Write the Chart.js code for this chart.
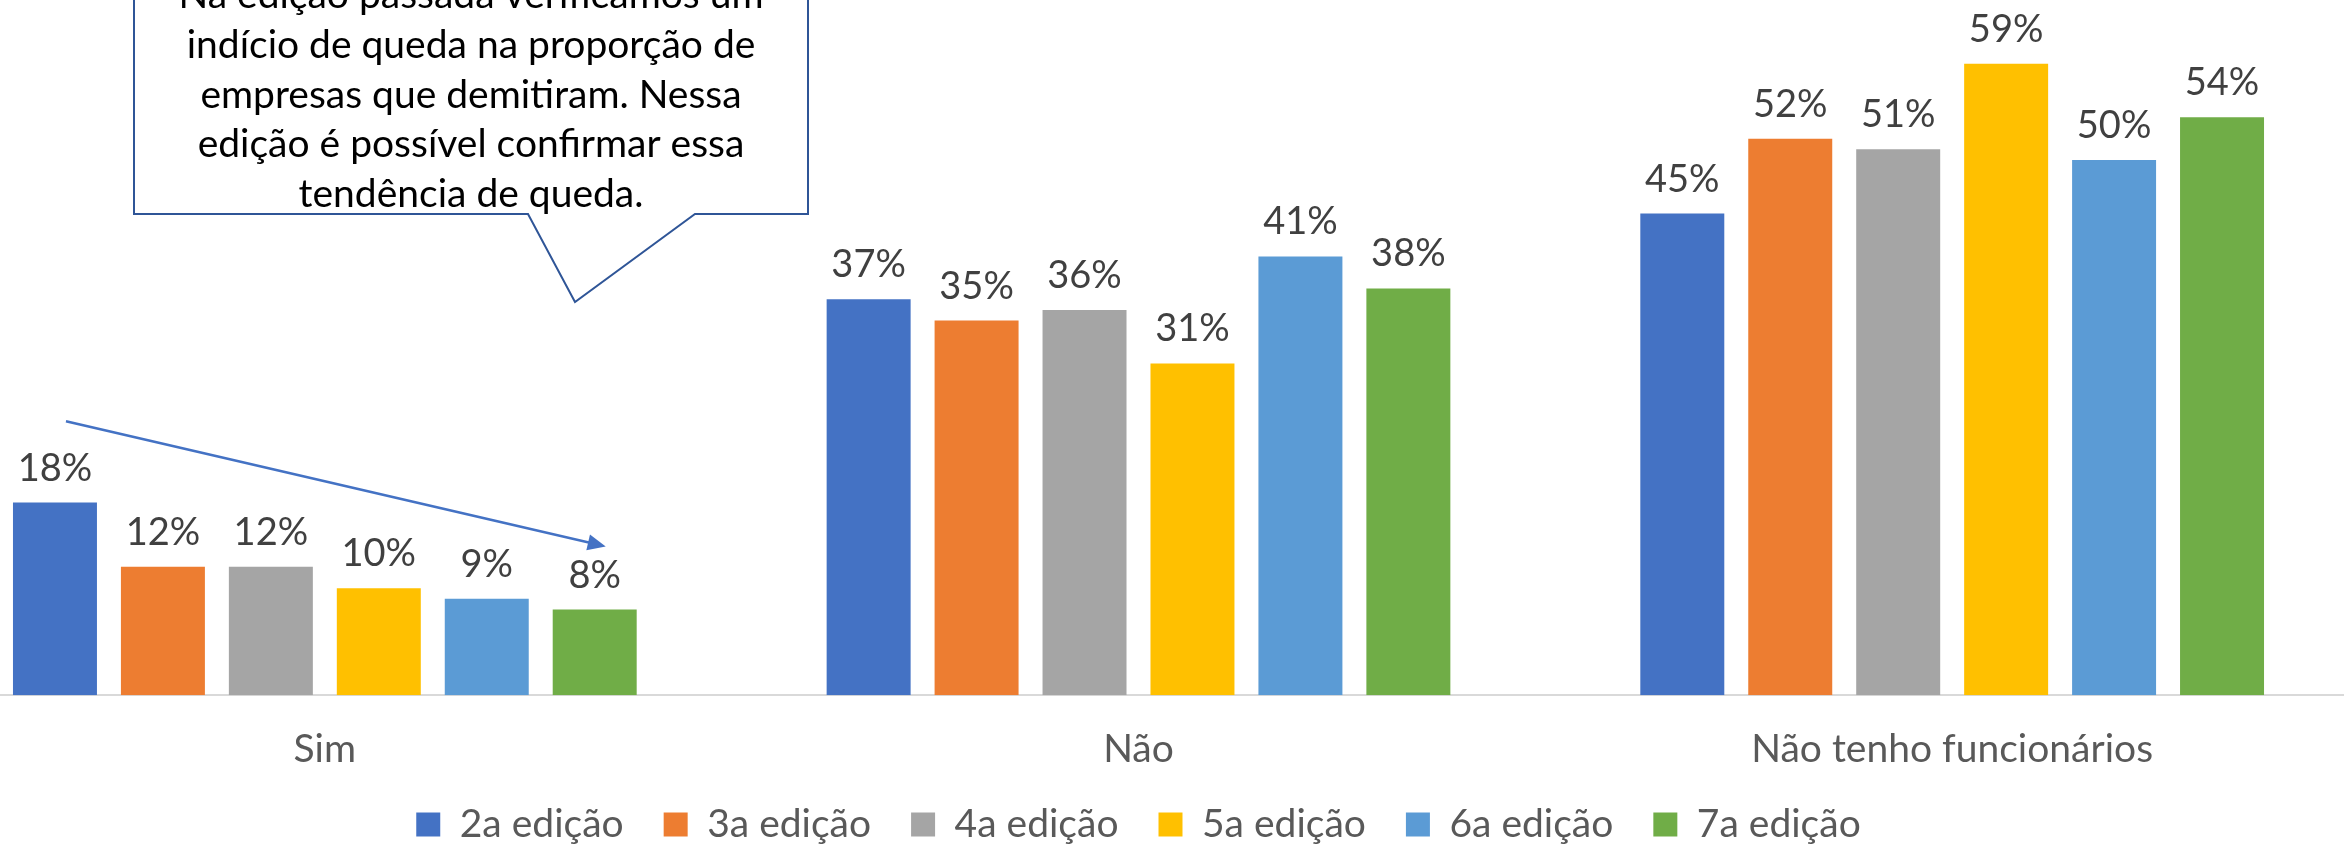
<!DOCTYPE html>
<html>
<head>
<meta charset="utf-8">
<script src="https://cdn.jsdelivr.net/npm/chart.js"></script>
<style>
  html, body { margin: 0; padding: 0; background: #fff; overflow: hidden; width: 2344px; height: 846px; }
  #wrap { position: absolute; left: -82px; top: -54px; }
</style>
</head>
<body>
<div id="wrap"><canvas id="myChart" width="2441" height="908"></canvas></div>
<script>
var categories = ['Sim', 'Não', 'Não tenho funcionários'];
var editions = ['2a edição', '3a edição', '4a edição', '5a edição', '6a edição', '7a edição'];
var ed2 = [18, 37, 45];
var ed3 = [12, 35, 52];
var ed4 = [12, 36, 51];
var ed5 = [10, 31, 59];
var ed6 = [9, 41, 50];
var ed7 = [8, 38, 54];
var colors = ['#4472C4', '#ED7D31', '#A5A5A5', '#FFC000', '#5B9BD5', '#70AD47'];

var calloutLines = [
    'Na edição passada verificamos um',
    'indício de queda na proporção de',
    'empresas que demitiram. Nessa',
    'edição é possível confirmar essa',
    'tendência de queda.'
];

var FONT = 'Lato, "Open Sans", sans-serif';
var OFF_X = 82, OFF_Y = 54; // canvas sits up/left of the page

var series = [ed2, ed3, ed4, ed5, ed6, ed7];
var datasets = series.map(function(vals, i) {
    return {
        label: editions[i],
        data: vals,
        backgroundColor: colors[i],
        borderWidth: 0,
        categoryPercentage: 0.796,
        barPercentage: 0.778
    };
});

// value labels over each bar
var barLabels = {
    id: 'barLabels',
    afterDatasetsDraw: function(chart) {
        var ctx = chart.ctx;
        ctx.save();
        ctx.font = '38px ' + FONT;
        ctx.fillStyle = '#404040';
        ctx.textAlign = 'center';
        ctx.textBaseline = 'alphabetic';
        chart.data.datasets.forEach(function(ds, i) {
            chart.getDatasetMeta(i).data.forEach(function(bar, j) {
                ctx.fillText(ds.data[j] + '%', bar.x, bar.y - 22);
            });
        });
        ctx.restore();
    }
};

// trend arrow and speech callout
var notes = {
    id: 'notes',
    afterDraw: function(chart) {
        var ctx = chart.ctx;
        var y = chart.scales.y;
        var first = chart.getDatasetMeta(0).data[0];
        var last = chart.getDatasetMeta(5).data[0];
        var x1 = first.x + 11, y1 = y.getPixelForValue(25.6);
        var x2 = last.x + 11, y2 = y.getPixelForValue(13.9);
        var ang = Math.atan2(y2 - y1, x2 - x1);
        ctx.save();
        ctx.strokeStyle = '#4472C4';
        ctx.fillStyle = '#4472C4';
        ctx.lineWidth = 2.5;
        ctx.beginPath();
        ctx.moveTo(x1, y1);
        ctx.lineTo(x2 - 14 * Math.cos(ang), y2 - 14 * Math.sin(ang));
        ctx.stroke();
        ctx.beginPath();
        ctx.moveTo(x2, y2);
        ctx.lineTo(x2 - 18 * Math.cos(ang) + 8 * Math.sin(ang), y2 - 18 * Math.sin(ang) - 8 * Math.cos(ang));
        ctx.lineTo(x2 - 18 * Math.cos(ang) - 8 * Math.sin(ang), y2 - 18 * Math.sin(ang) + 8 * Math.cos(ang));
        ctx.closePath();
        ctx.fill();

        // callout box
        var L = 134 + OFF_X, R = 808 + OFF_X, B = 214 + OFF_Y, T = -40 + OFF_Y;
        ctx.beginPath();
        ctx.moveTo(L, T);
        ctx.lineTo(R, T);
        ctx.lineTo(R, B);
        ctx.lineTo(695 + OFF_X, B);
        ctx.lineTo(575 + OFF_X, 302 + OFF_Y);
        ctx.lineTo(528 + OFF_X, B);
        ctx.lineTo(L, B);
        ctx.closePath();
        ctx.fillStyle = '#fff';
        ctx.fill();
        ctx.strokeStyle = '#2F5597';
        ctx.lineWidth = 2;
        ctx.stroke();

        ctx.fillStyle = '#000';
        ctx.font = '39px ' + FONT;
        ctx.textAlign = 'center';
        ctx.textBaseline = 'alphabetic';
        var cx = (L + R) / 2;
        calloutLines.forEach(function(line, i) {
            ctx.fillText(line, cx, 8 + OFF_Y + i * 49.8);
        });
        ctx.restore();
    }
};

var config = {
    type: 'bar',
    data: {
        labels: categories,
        datasets: datasets
    },
    options: {
        responsive: false,
        animation: false,
        devicePixelRatio: 1,
        layout: { padding: 0 },
        scales: {
            x: {
                grid: { display: false, drawTicks: true, tickLength: 39 },
                border: { display: true, color: '#D9D9D9', width: 2 },
                ticks: {
                    padding: -8,
                    color: '#595959',
                    font: { family: FONT, size: 39 }
                }
            },
            y: {
                display: false,
                min: 0,
                max: 70
            }
        },
        plugins: {
            legend: {
                position: 'bottom',
                labels: {
                    boxWidth: 24,
                    boxHeight: 24,
                    padding: 40,
                    color: '#595959',
                    font: { family: FONT, size: 39 }
                }
            },
            title: { display: false },
            tooltip: { enabled: false }
        }
    },
    plugins: [barLabels, notes]
};

var ctx = document.getElementById('myChart').getContext('2d');
window.myBar = new Chart(ctx, config);
</script>
</body>
</html>
